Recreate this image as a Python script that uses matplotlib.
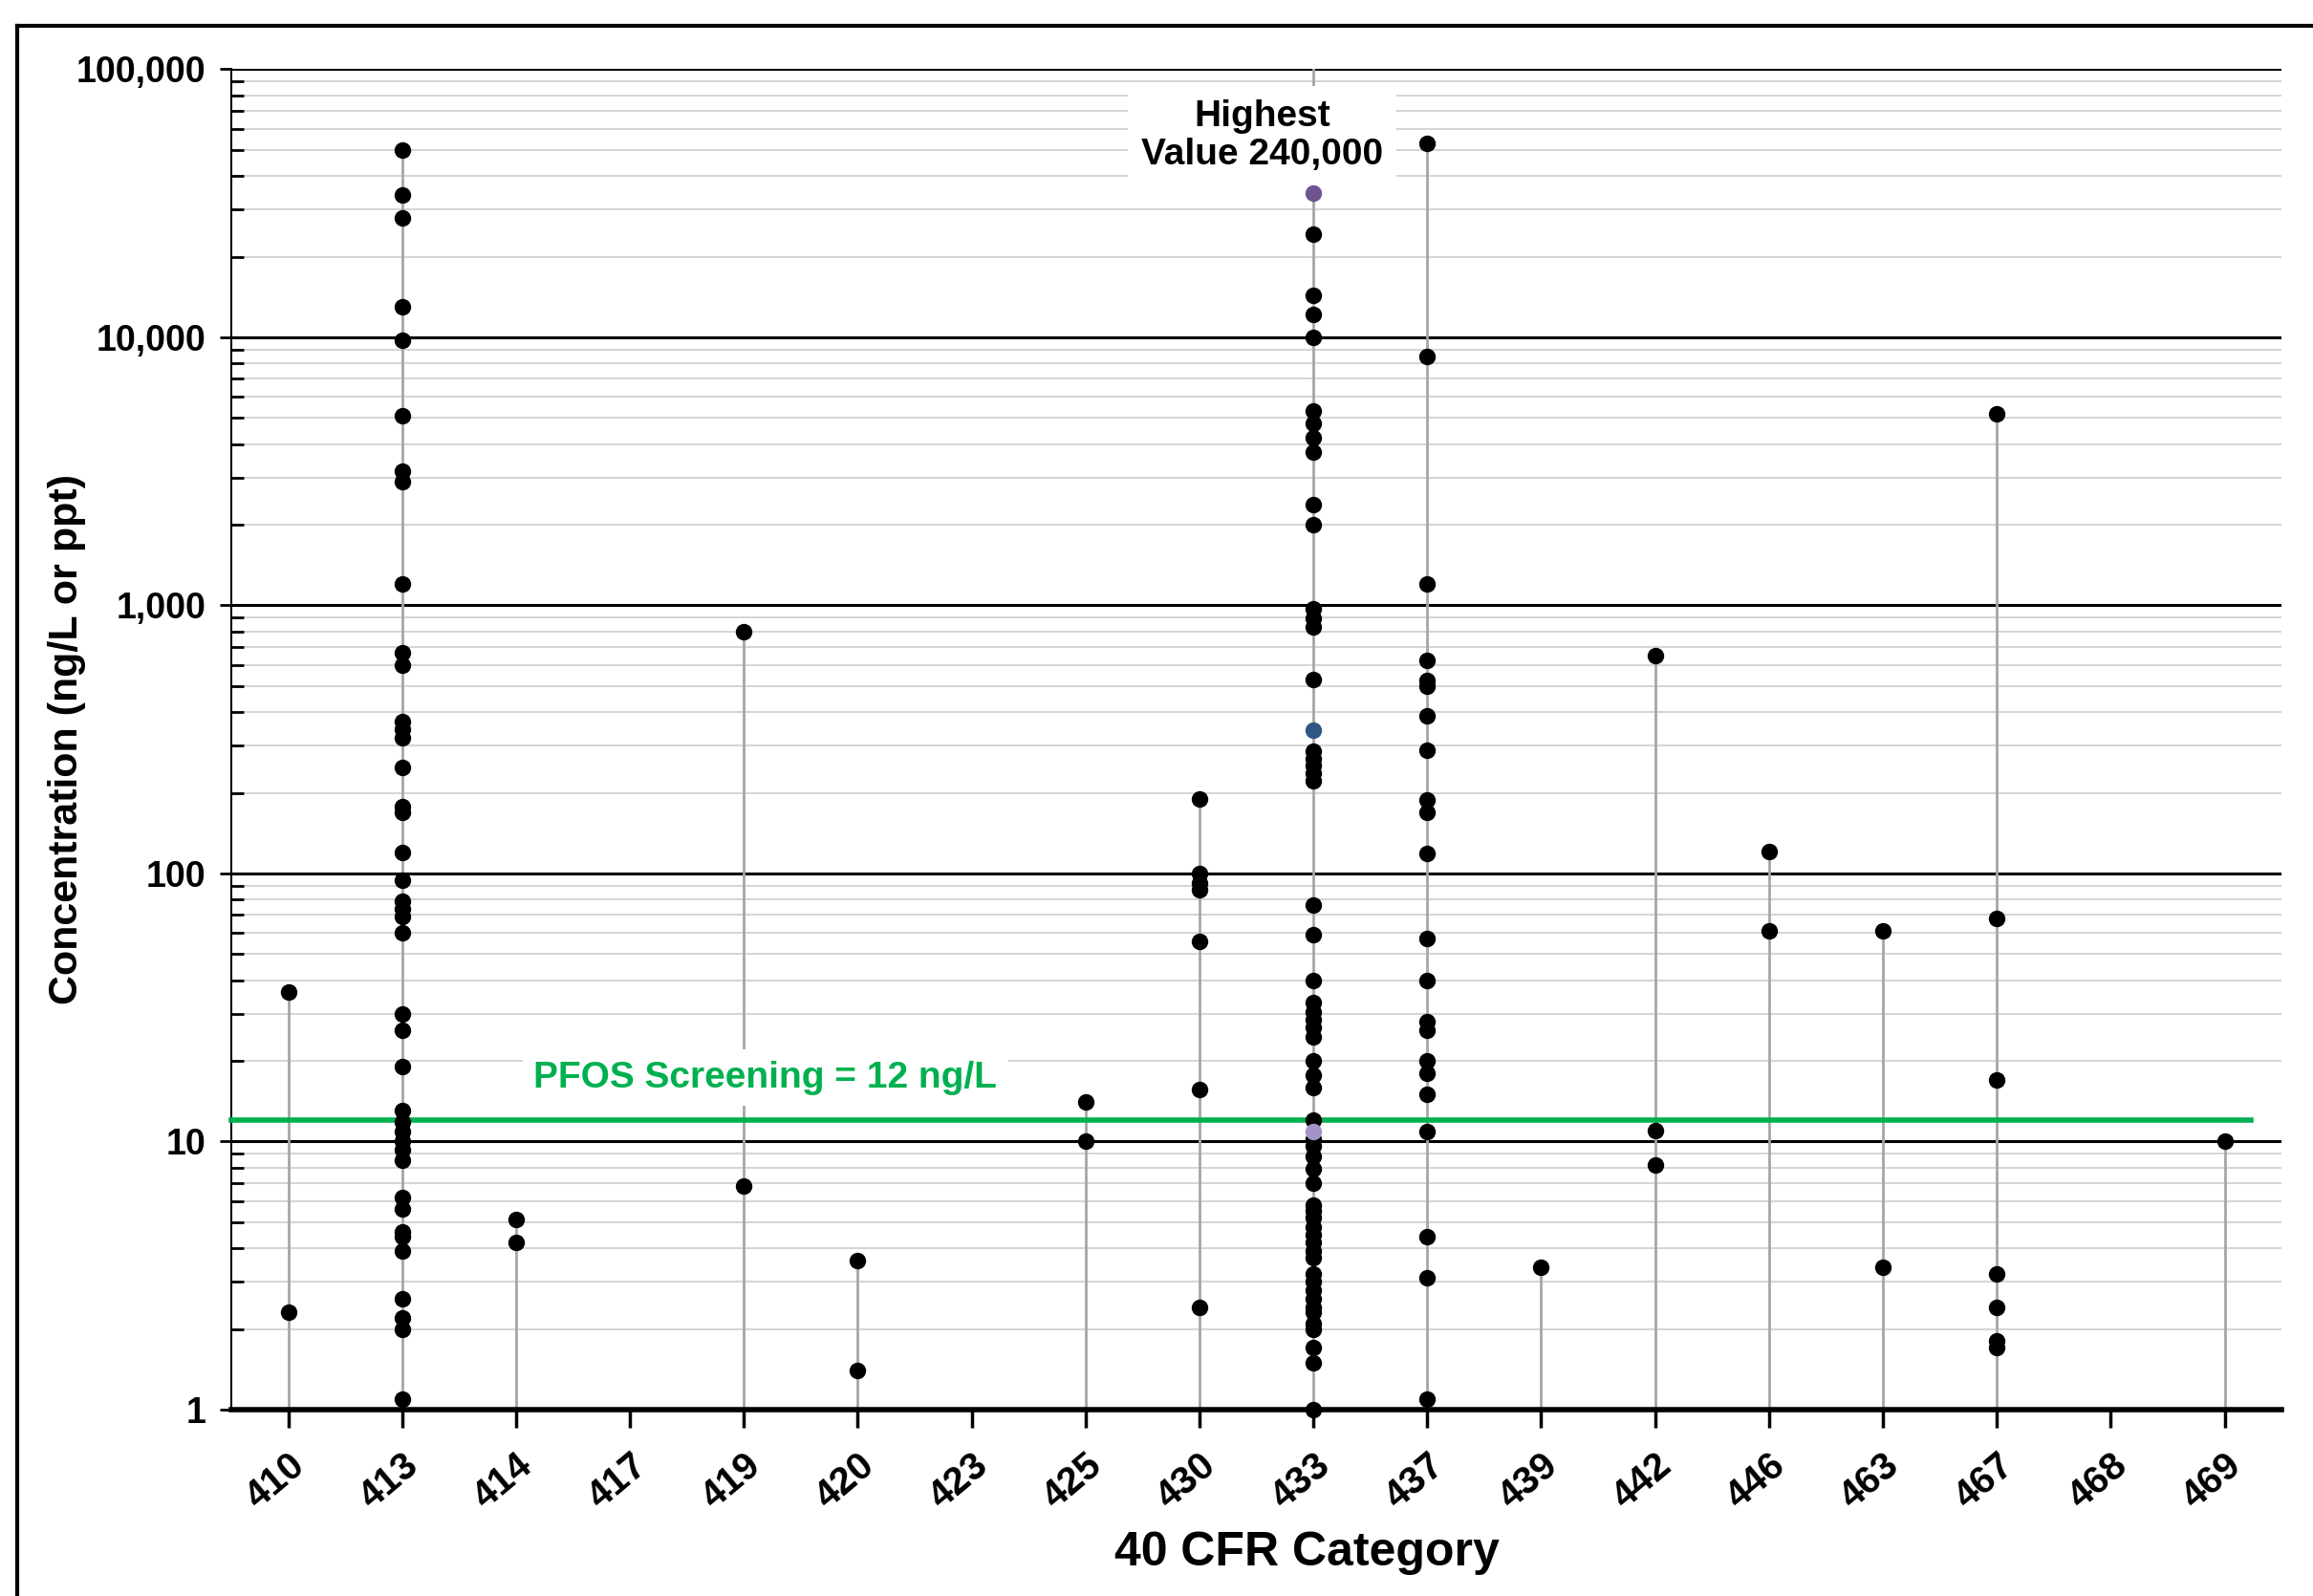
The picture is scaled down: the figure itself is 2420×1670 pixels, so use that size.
import numpy as np
import matplotlib
matplotlib.use("Agg")
import matplotlib.pyplot as plt
from matplotlib.ticker import FixedLocator, LogLocator, NullFormatter

plt.rcParams['font.family'] = ['Liberation Sans', 'DejaVu Sans']
plt.rcParams['font.weight'] = 'bold'

# categories on the x axis
cats = ["410", "413", "414", "417", "419", "420", "423", "425", "430",
        "433", "437", "439", "442", "446", "463", "467", "468", "469"]

# concentrations (ng/L), per category
v410 = [36, 2.3]
v413 = [50000, 34000, 28000, 13000, 9750, 5100, 3180, 2900, 1200, 665, 600,
        370, 344, 320, 248, 178, 169, 120, 94, 79, 74, 69, 60, 30, 26, 19, 13,
        11.8, 10.9, 10, 9.3, 8.5, 6.2, 5.6, 4.6, 4.4, 3.9, 2.6, 2.2, 2.0, 1.09]
v414 = [5.1, 4.2]
v417 = []
v419 = [800, 6.8]
v420 = [3.6, 1.4]
v423 = []
v425 = [14, 10]
v430 = [190, 100, 92, 87, 56, 15.6, 2.4]
v433 = [24300, 14400, 12200, 10000, 5300, 4760, 4230, 3740, 2370, 2000, 970,
        893, 828, 529, 286, 268, 252, 236, 222, 76, 59, 40, 33, 30.4, 28.5,
        26.6, 24.5, 20, 17.7, 15.9, 12, 10.2, 9.6, 8.8, 7.9, 7.0, 5.8, 5.5,
        5.2, 4.8, 4.5, 4.2, 3.9, 3.7, 3.2, 3.0, 2.8, 2.6, 2.4, 2.3, 2.1, 2.0,
        1.7, 1.5, 1.0]
v437 = [53000, 8500, 1200, 625, 525, 500, 386, 289, 188, 169, 119, 57, 40,
        28, 26, 20, 18, 15, 10.9, 4.4, 3.1, 1.09]
v439 = [3.4]
v442 = [650, 11, 8.2]
v446 = [121, 61]
v463 = [61, 3.4]
v467 = [5200, 68, 17, 3.2, 2.4, 1.8, 1.7]
v468 = []
v469 = [10]

# a few coloured points in 433
v433_purple = [34500]
v433_blue = [343]
v433_lilac = [10.9]
highest_433 = 240000

pfos_screening = 12

values = [v410, v413, v414, v417, v419, v420, v423, v425, v430,
          v433 + v433_purple + v433_blue + v433_lilac, v437, v439, v442,
          v446, v463, v467, v468, v469]

fig = plt.figure(figsize=(24.2, 16.7), dpi=100)
ax = fig.add_axes([0.1, 0.1168, 0.8864, 0.8398])

ax.set_yscale('log')
ax.set_ylim(1, 100000)
ax.set_xlim(-0.5, len(cats) - 0.5)

# stems from the bottom up to the largest value
for i, vals in enumerate(values):
    if not vals:
        continue
    top = max(vals)
    if cats[i] == "433":
        top = highest_433
    ax.vlines(i, 1, top, color='#a6a6a6', lw=2.0, zorder=2)

ms = 11.5
for i, vals in enumerate(values):
    if cats[i] == "433":
        vals = v433
    ax.plot([i] * len(vals), vals, 'o', color='black', ms=ms, zorder=4,
            clip_on=False)

i433 = cats.index("433")
ax.plot([i433] * len(v433_purple), v433_purple, 'o', color='#6f5290', ms=ms, zorder=4)
ax.plot([i433] * len(v433_blue), v433_blue, 'o', color='#2f5783', ms=ms, zorder=4)
ax.plot([i433] * len(v433_lilac), v433_lilac, 'o', color='#a394c8', ms=ms, zorder=4)

# screening line
ax.plot([-0.5, len(cats) - 1 + 0.23], [pfos_screening, pfos_screening],
        color='#00b050', lw=4, zorder=3, clip_on=False)
ax.text(4.19, 17.3, "PFOS Screening = 12 ng/L", color='#00b050', fontsize=28,
        fontweight='bold', ha='center', va='center', zorder=5,
        bbox=dict(facecolor='white', edgecolor='none', pad=8))

ax.text(8.55, 56500, "Highest\nValue 240,000", fontsize=28, fontweight='bold',
        ha='center', va='center', multialignment='center', linespacing=1.15,
        zorder=5, bbox=dict(facecolor='white', edgecolor='none', pad=10))

# grid
ax.yaxis.set_major_locator(FixedLocator([1, 10, 100, 1000, 10000, 100000]))
ax.yaxis.set_minor_locator(LogLocator(base=10, subs=np.arange(2, 10)))
ax.yaxis.set_minor_formatter(NullFormatter())
ax.set_yticklabels(["1", "10", "100", "1,000", "10,000", "100,000"])
ax.grid(True, which='major', axis='y', color='black', lw=2.2, zorder=1)
ax.grid(True, which='minor', axis='y', color='#d4d4d4', lw=1.4, zorder=0)
ax.set_axisbelow(True)

ax.set_xticks(range(len(cats)))
ax.set_xticklabels(cats, rotation=40, ha='right', rotation_mode='anchor')

ax.tick_params(axis='y', which='major', direction='out', length=9, width=2,
               labelsize=27, pad=10)
ax.tick_params(axis='y', which='minor', direction='in', length=9, width=2)
ax.tick_params(axis='x', direction='out', length=14, width=2.5, labelsize=29,
               pad=14)
for lab in ax.get_xticklabels() + ax.get_yticklabels():
    lab.set_fontweight('bold')

ax.spines['top'].set_visible(False)
ax.spines['right'].set_visible(False)
ax.spines['left'].set_linewidth(1.5)
ax.spines['bottom'].set_linewidth(4)

ax.set_ylabel("Concentration (ng/L or ppt)", fontsize=31, fontweight='bold')
ax.yaxis.set_label_coords(-0.071, 0.5)
ax.set_xlabel("40 CFR Category", fontsize=36, fontweight='bold')
ax.xaxis.label.set_va('center')
ax.xaxis.set_label_coords(0.5245, -0.107)

# outer frame (only left and top edges are in view)
fig.add_artist(plt.Line2D([0.0075, 0.0075], [0, 0.984], color='black', lw=3))
fig.add_artist(plt.Line2D([0.0075, 1], [0.984, 0.984], color='black', lw=3))

fig.savefig("out.png", dpi=100)
